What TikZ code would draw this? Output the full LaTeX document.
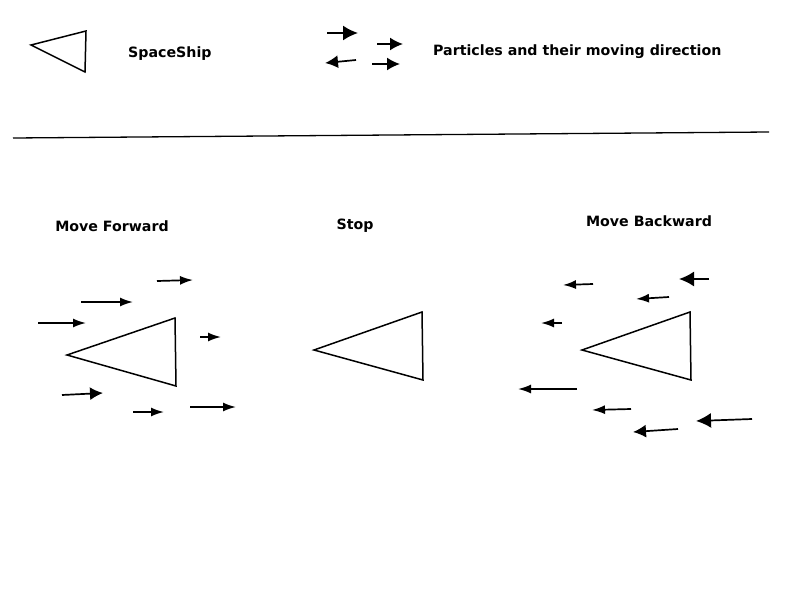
\documentclass[tikz,border=0pt]{standalone}
\usepackage{fontspec}
\setmainfont{DejaVu Sans}
\usetikzlibrary{arrows.meta}
\tikzset{
  ship/.style={draw=black, line width=1.5pt, line join=miter},
  lbl/.style={font=\bfseries\fontsize{14.2}{16}\selectfont, inner sep=0pt},
  part/.style={draw=black, line width=1.7pt, -{Latex[length=#1pt, width=#1pt]}},
  part/.default=10,
  fpart/.style={draw=black, line width=1.7pt, -{Latex[length=13pt, width=9pt]}}
}
\begin{document}
\begin{tikzpicture}[x=1pt, y=-1pt]
\useasboundingbox (0,0) rectangle (800,600);
% legend
\draw[ship] (31,45) -- (86,31) -- (85,72) -- cycle;
\node[lbl, anchor=west] (ssl) at (128,54) {SpaceShip};
\draw[part=15] (327,33) -- (358,33);
\draw[part=13] (377,44) -- (403,44);
\draw[part=13] (356,60) -- (325,63);
\draw[part=13] (372,64) -- (400,64);
\node[lbl, anchor=west] (pl) at (433,52) {Particles and their moving direction};
% separator
\draw[line width=1.3pt] (13,138) -- (769,132);
% titles
\node[lbl] (t1) at (112,226) {Move Forward};
\node[lbl] (t2) at (355,226) {Stop};
\node[lbl] (t3) at (649,221) {Move Backward};
% ships
\draw[ship] (67,355) -- (175,318) -- (176,386) -- cycle;
\draw[ship] (314,350) -- (422,312) -- (423,380) -- cycle;
\draw[ship] (582,350) -- (690,312) -- (691,380) -- cycle;
% forward particles
\draw[fpart] (157,281) -- (193,280);
\draw[fpart] (81,302) -- (133,302);
\draw[fpart] (38,323) -- (86,323);
\draw[fpart] (200,337) -- (221,337);
\draw[part=13] (62,395) -- (103,393);
\draw[fpart] (133,412) -- (164,412);
\draw[fpart] (190,407) -- (236,407);
% backward particles
\draw[fpart] (593,284) -- (563,285);
\draw[part=15] (709,279) -- (679,279);
\draw[fpart] (669,297) -- (636,299);
\draw[fpart] (562,323) -- (541,323);
\draw[fpart] (577,389) -- (518,389);
\draw[fpart] (631,409) -- (592,410);
\draw[part=15] (752,419) -- (696,421);
\draw[part=13] (678,429) -- (633,432);
\end{tikzpicture}
\end{document}
